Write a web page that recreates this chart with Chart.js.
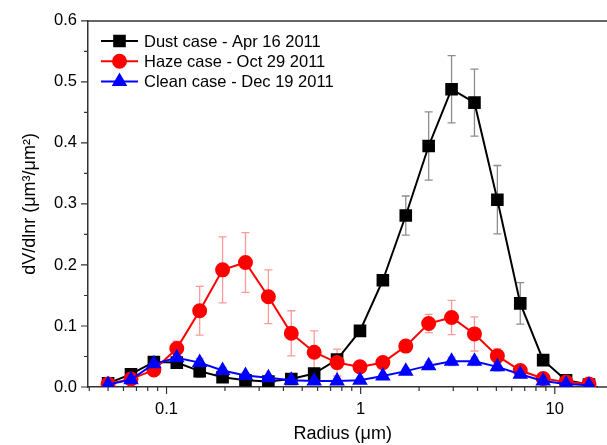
<!DOCTYPE html>
<html>
<head>
<meta charset="utf-8">
<script src="https://cdn.jsdelivr.net/npm/chart.js@4.4.1/dist/chart.umd.min.js"></script>
<style>
  html, body { margin: 0; padding: 0; background: #fff; overflow: hidden; }
  canvas { display: block; }
</style>
</head>
<body>
<canvas id="chart" width="607" height="445"></canvas>
<script>
// Radius bins (um), AERONET size distribution
const radius = [0.05, 0.065604, 0.086077, 0.112939, 0.148184, 0.194429, 0.255105, 0.334716, 0.439173, 0.576227, 0.756052,
  0.991996, 1.301571, 1.707757, 2.240702, 2.939966, 3.857452, 5.061260, 6.640745, 8.713145, 11.432287, 15.0];

const dust = [0.006, 0.021, 0.041, 0.040, 0.026, 0.016, 0.011, 0.009, 0.013, 0.022, 0.045,
  0.092, 0.175, 0.281, 0.395, 0.488, 0.466, 0.307, 0.137, 0.044, 0.011, 0.004];
const dustErr = [0.002, 0.004, 0.006, 0.008, 0.010, 0.006, 0.004, 0.003, 0.003, 0.004, 0.006,
  0.006, 0.008, 0.032, 0.056, 0.055, 0.055, 0.056, 0.034, 0.008, 0.004, 0.002];

const haze = [0.005, 0.013, 0.028, 0.063, 0.125, 0.192, 0.204, 0.148, 0.088, 0.057, 0.040,
  0.033, 0.040, 0.067, 0.104, 0.114, 0.087, 0.051, 0.027, 0.014, 0.008, 0.005];
const hazeErr = [0.002, 0.004, 0.005, 0.012, 0.040, 0.054, 0.049, 0.044, 0.037, 0.035, 0.022,
  0.006, 0.006, 0.008, 0.015, 0.028, 0.028, 0.012, 0.006, 0.004, 0.002, 0.002];

const clean = [0.004, 0.012, 0.038, 0.048, 0.040, 0.027, 0.019, 0.015, 0.011, 0.010, 0.010,
  0.011, 0.018, 0.026, 0.035, 0.042, 0.042, 0.033, 0.021, 0.010, 0.005, 0.003];
const cleanErr = [0.001, 0.003, 0.006, 0.008, 0.007, 0.005, 0.004, 0.003, 0.003, 0.003, 0.003,
  0.003, 0.004, 0.005, 0.006, 0.007, 0.007, 0.007, 0.005, 0.003, 0.002, 0.001];

const seriesNames = ['Dust case - Apr 16 2011', 'Haze case - Oct 29 2011', 'Clean case - Dec 19 2011'];

// Axis ticks
const xMajor = [0.1, 1, 10];
const xMinor = [0.04, 0.05, 0.06, 0.07, 0.08, 0.09, 0.2, 0.3, 0.4, 0.5, 0.6, 0.7, 0.8, 0.9,
  2, 3, 4, 5, 6, 7, 8, 9];
const yMajor = [0, 0.1, 0.2, 0.3, 0.4, 0.5, 0.6];
const yMinor = [0.05, 0.15, 0.25, 0.35, 0.45, 0.55];

const FONT = "'Liberation Sans', Arial, sans-serif";

function pts(ys) {
  return radius.map((r, i) => ({ x: r, y: ys[i] }));
}

const errs = [dustErr, hazeErr, cleanErr];
const errColors = ['rgba(0,0,0,0.45)', 'rgba(255,0,0,0.4)', 'rgba(0,0,255,0.35)'];

// error bars drawn under the lines
const errorBars = {
  id: 'errorBars',
  beforeDatasetsDraw(chart) {
    const ctx = chart.ctx, xs = chart.scales.x, ys = chart.scales.y;
    ctx.save();
    ctx.lineWidth = 1.3;
    chart.data.datasets.forEach((ds, d) => {
      ctx.strokeStyle = errColors[d];
      ds.data.forEach((p, i) => {
        const x = xs.getPixelForValue(p.x);
        const yt = ys.getPixelForValue(p.y + errs[d][i]);
        const yb = ys.getPixelForValue(Math.max(0, p.y - errs[d][i]));
        ctx.beginPath();
        ctx.moveTo(x, yt); ctx.lineTo(x, yb);
        ctx.moveTo(x - 4, yt); ctx.lineTo(x + 4, yt);
        ctx.moveTo(x - 4, yb); ctx.lineTo(x + 4, yb);
        ctx.stroke();
      });
    });
    ctx.restore();
  }
};

// Origin style frame: outward ticks, top border line, inside legend
const frame = {
  id: 'frame',
  afterDraw(chart) {
    const ctx = chart.ctx, xs = chart.scales.x, ys = chart.scales.y;
    const a = chart.chartArea;
    ctx.save();
    ctx.strokeStyle = '#333';
    ctx.lineWidth = 1.5;
    ctx.beginPath();
    ctx.moveTo(a.left, a.top); ctx.lineTo(chart.width, a.top);
    ctx.moveTo(a.right - 1, a.bottom); ctx.lineTo(chart.width, a.bottom);
    ctx.stroke();
    ctx.lineWidth = 1.2;
    ctx.beginPath();
    xMajor.concat(xMinor).forEach(v => {
      const x = xs.getPixelForValue(v);
      if (x < a.left || x > chart.width) return;
      const len = xMajor.includes(v) ? 7 : 4;
      ctx.moveTo(x, a.bottom); ctx.lineTo(x, a.bottom + len);
    });
    yMajor.concat(yMinor).forEach(v => {
      const y = ys.getPixelForValue(v);
      const len = yMajor.includes(v) ? 7 : 4;
      ctx.moveTo(a.left, y); ctx.lineTo(a.left - len, y);
    });
    ctx.stroke();

    // legend
    const lx = 101, lw = 37, ly0 = 41, step = 20.3;
    chart.data.datasets.forEach((ds, i) => {
      const y = ly0 + i * step;
      ctx.strokeStyle = ds.borderColor;
      ctx.lineWidth = 2;
      ctx.beginPath();
      ctx.moveTo(lx, y); ctx.lineTo(lx + lw, y);
      ctx.stroke();
      ctx.fillStyle = ds.pointBackgroundColor;
      ctx.strokeStyle = ds.pointBackgroundColor;
      Chart.helpers.drawPoint(ctx, {
        pointStyle: ds.pointStyle, radius: ds.pointRadius, rotation: 0, borderWidth: 1
      }, lx + lw / 2, y);
      ctx.fillStyle = '#000';
      ctx.font = '16.5px ' + FONT;
      ctx.textBaseline = 'middle';
      ctx.fillText(seriesNames[i], 144, y + 1);
    });
    ctx.restore();
  }
};

new Chart(document.getElementById('chart'), {
  type: 'line',
  data: {
    datasets: [
      {
        label: seriesNames[0], data: pts(dust), borderColor: '#000', backgroundColor: '#000',
        pointBackgroundColor: '#000', pointBorderColor: '#000', pointStyle: 'rect', pointRadius: 7.5,
        borderWidth: 2, order: 2
      },
      {
        label: seriesNames[1], data: pts(haze), borderColor: '#ff0000', backgroundColor: '#ff0000',
        pointBackgroundColor: '#ff0000', pointBorderColor: '#ff0000', pointStyle: 'circle', pointRadius: 6.5,
        borderWidth: 2, order: 1
      },
      {
        label: seriesNames[2], data: pts(clean), borderColor: '#0000ff', backgroundColor: '#0000ff',
        pointBackgroundColor: '#0000ff', pointBorderColor: '#0000ff', pointStyle: 'triangle', pointRadius: 7,
        borderWidth: 2, order: 0
      }
    ]
  },
  options: {
    responsive: false,
    animation: false,
    layout: { padding: { top: 18, right: 0, left: 0, bottom: 0 } },
    plugins: { legend: { display: false }, tooltip: { enabled: false } },
    elements: { line: { tension: 0 }, point: { borderWidth: 1 } },
    scales: {
      x: {
        type: 'logarithmic',
        min: 0.0394,
        max: 16.6,
        afterBuildTicks: s => { s.ticks = xMajor.map(v => ({ value: v })); },
        afterFit: s => { s.height = 58; },
        grid: { display: false, drawTicks: false },
        border: { display: true, color: '#333', width: 1.5 },
        ticks: {
          color: '#000', padding: 13, maxRotation: 0, autoSkip: false,
          font: { family: FONT, size: 16.5 },
          callback: v => String(v)
        },
        title: {
          display: true, text: 'Radius (\u03bcm)', color: '#000',
          font: { family: FONT, size: 18, lineHeight: 1 }, padding: { bottom: 2, top: 0 }
        }
      },
      y: {
        min: 0,
        max: 0.6,
        afterBuildTicks: s => { s.ticks = yMajor.map(v => ({ value: v })); },
        afterFit: s => { s.width = 88; },
        grid: { display: false, drawTicks: false },
        border: { display: true, color: '#333', width: 1.5 },
        ticks: {
          color: '#000', padding: 11,
          font: { family: FONT, size: 16.5 },
          callback: v => Number(v).toFixed(1)
        },
        title: {
          display: true, text: 'dV/dlnr (\u03bcm\u00b3/\u03bcm\u00b2)', color: '#000',
          font: { family: FONT, size: 18, lineHeight: 1 }, padding: { top: 21, bottom: 0 }
        }
      }
    }
  },
  plugins: [errorBars, frame]
});
</script>
</body>
</html>
